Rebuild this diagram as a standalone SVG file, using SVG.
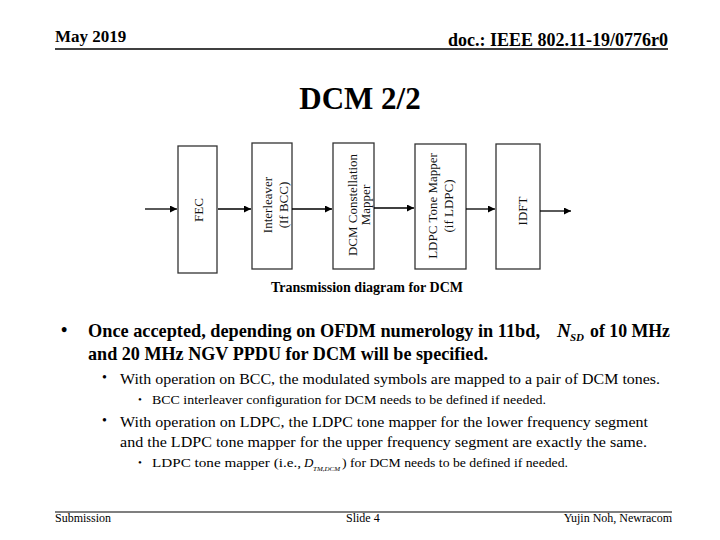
<svg xmlns="http://www.w3.org/2000/svg" width="720" height="540" viewBox="0 0 720 540">
<defs>
<marker id="ah" viewBox="0 0 10 10" refX="10" refY="5" markerWidth="7" markerHeight="7" markerUnits="userSpaceOnUse" orient="auto">
<path d="M0,0 L10,5 L0,10 z" fill="#000"/>
</marker>
<style>
.serif{font-family:"Liberation Serif","Times New Roman",serif;fill:#000}
.b{font-weight:bold}
.box{fill:#fff;stroke:#333;stroke-width:1.3}
.blk{font-family:"Liberation Serif","Times New Roman",serif;font-size:13px;fill:#111;text-anchor:middle}
.conn line{stroke:#000;stroke-width:1.3;marker-end:url(#ah)}
.rule{stroke:#000;stroke-width:1.5}
</style>
</defs>
<rect width="720" height="540" fill="#fff"/>

<!-- header -->
<text class="serif b" x="55" y="42" font-size="17">May 2019</text>
<text class="serif b" x="668" y="46" font-size="18" text-anchor="end">doc.: IEEE 802.11-19/0776r0</text>
<line class="rule" x1="55" y1="49" x2="668" y2="49"/>
<text class="serif b" x="360" y="109" font-size="31" text-anchor="middle">DCM 2/2</text>

<!-- nodes -->
<g id="fec">
<rect class="box" x="178" y="146" width="39" height="127"/>
<text class="blk" transform="translate(203,210) rotate(-90)">FEC</text>
</g>
<g id="interleaver">
<rect class="box" x="252" y="143" width="40" height="126"/>
<text class="blk" transform="translate(272,205) rotate(-90)">Interleaver</text>
<text class="blk" transform="translate(288,205) rotate(-90)">(If BCC)</text>
</g>
<g id="dcm-mapper">
<rect class="box" x="333" y="143" width="41" height="126"/>
<text class="blk" transform="translate(357,205) rotate(-90)">DCM Constellation</text>
<text class="blk" transform="translate(370,205) rotate(-90)">Mapper</text>
</g>
<g id="ldpc-tone-mapper">
<rect class="box" x="415" y="144" width="51" height="125"/>
<text class="blk" transform="translate(437,206) rotate(-90)">LDPC Tone Mapper</text>
<text class="blk" transform="translate(453,206) rotate(-90)">(if LDPC)</text>
</g>
<g id="idft">
<rect class="box" x="496" y="144" width="44" height="125"/>
<text class="blk" transform="translate(527,211) rotate(-90)">IDFT</text>
</g>

<!-- connectors -->
<g class="conn" id="connectors">
<line x1="145" y1="209" x2="177" y2="209"/>
<line x1="218" y1="209" x2="251" y2="209"/>
<line x1="292" y1="209" x2="332" y2="209"/>
<line x1="374" y1="208" x2="414" y2="208"/>
<line x1="466" y1="209" x2="495" y2="209"/>
<line x1="540" y1="211" x2="571" y2="211"/>
</g>

<text class="serif b" x="367" y="292" font-size="14" text-anchor="middle">Transmission diagram for DCM</text>

<!-- bullets -->
<text class="serif b" x="61" y="336" font-size="18">•</text>
<text class="serif b" x="88" y="337" font-size="19" textLength="452" lengthAdjust="spacingAndGlyphs">Once accepted, depending on OFDM numerology in 11bd,</text>
<text class="serif b" x="557" y="337" font-size="19" font-style="italic">N</text>
<text class="serif b" x="570" y="341" font-size="11" font-style="italic">SD</text>
<text class="serif b" x="590" y="337" font-size="19" textLength="80" lengthAdjust="spacingAndGlyphs">of 10 MHz</text>
<text class="serif b" x="88" y="360" font-size="19" textLength="400" lengthAdjust="spacingAndGlyphs">and 20 MHz NGV PPDU for DCM will be specified.</text>

<text class="serif" x="102" y="382" font-size="14">•</text>
<text class="serif" x="120" y="384" font-size="15" textLength="540" lengthAdjust="spacingAndGlyphs">With operation on BCC, the modulated symbols are mapped to a pair of DCM tones.</text>

<text class="serif" x="138" y="403" font-size="11">•</text>
<text class="serif" x="152" y="404" font-size="12" textLength="394" lengthAdjust="spacingAndGlyphs">BCC interleaver configuration for DCM needs to be defined if needed.</text>

<text class="serif" x="102" y="425" font-size="14">•</text>
<text class="serif" x="120" y="427" font-size="15" textLength="528" lengthAdjust="spacingAndGlyphs">With operation on LDPC, the LDPC tone mapper for the lower frequency segment</text>
<text class="serif" x="120" y="447" font-size="15" textLength="527" lengthAdjust="spacingAndGlyphs">and the LDPC tone mapper for the upper frequency segment are exactly the same.</text>

<text class="serif" x="138" y="466" font-size="11">•</text>
<text class="serif" x="152" y="467" font-size="12" textLength="149" lengthAdjust="spacingAndGlyphs">LDPC tone mapper (i.e.,</text>
<text class="serif" x="304" y="467" font-size="13" font-style="italic">D</text>
<text class="serif" x="313" y="471" font-size="7" font-style="italic">TM,DCM</text>
<text class="serif" x="342" y="467" font-size="12" textLength="226" lengthAdjust="spacingAndGlyphs">) for DCM needs to be defined if needed.</text>

<!-- footer -->
<line x1="55" y1="512" x2="672" y2="512" stroke="#000" stroke-width="1.2"/>
<text class="serif" x="55" y="522" font-size="12">Submission</text>
<text class="serif" x="346" y="522" font-size="12">Slide 4</text>
<text class="serif" x="672" y="522" font-size="12" text-anchor="end">Yujin Noh, Newracom</text>
</svg>
